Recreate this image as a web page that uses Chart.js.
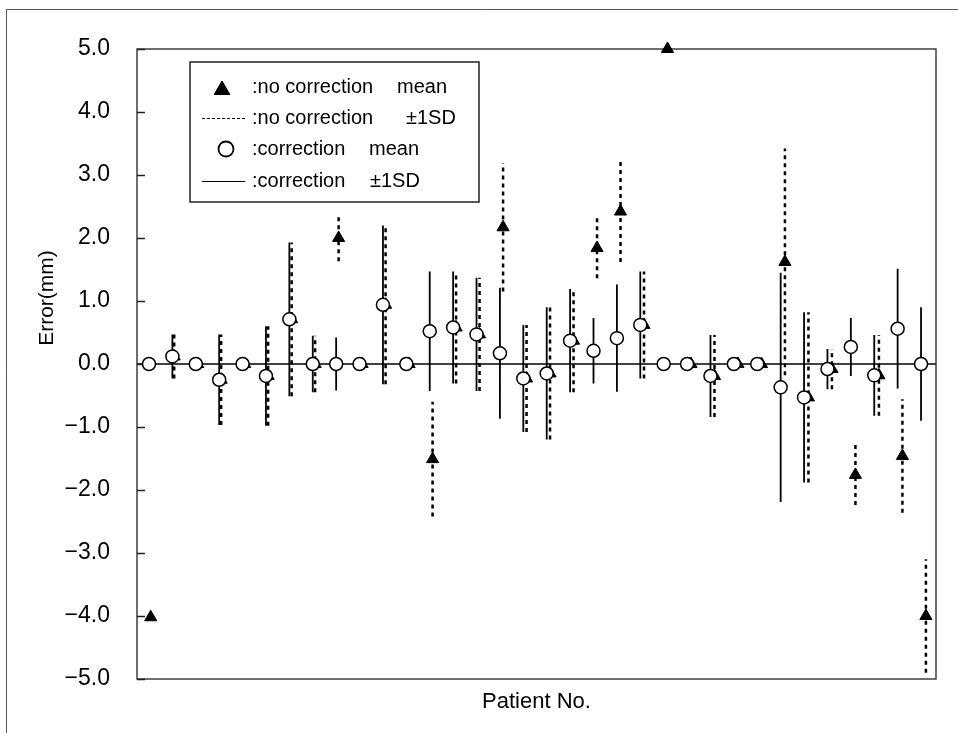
<!DOCTYPE html>
<html>
<head>
<meta charset="utf-8">
<script src="https://cdn.jsdelivr.net/npm/chart.js@4.4.0/dist/chart.umd.min.js"></script>
<style>
  html, body { margin: 0; padding: 0; background: #fff; }
  canvas { display: block; }
</style>
</head>
<body>
<canvas id="errChart" width="958" height="733"></canvas>
<script>
// patient numbers (x axis has no tick labels)
const patients = [1, 2, 3, 4, 5, 6, 7, 8, 9, 10, 11, 12, 13, 14, 15, 16, 17,
  18, 19, 20, 21, 22, 23, 24, 25, 26, 27, 28, 29, 30, 31, 32, 33, 34];

// correction: mean and 1SD (mm)
const corrMean = [0, 0.12, 0, -0.25, 0, -0.19, 0.71, 0, 0, 0, 0.94, 0, 0.52, 0.58, 0.47, 0.17, -0.23,
  -0.15, 0.37, 0.21, 0.41, 0.62, 0, 0, -0.19, 0, 0, -0.37, -0.53, -0.08, 0.27, -0.18, 0.56, 0];
const corrSD = [0, 0.35, 0, 0.72, 0, 0.79, 1.22, 0.45, 0.42, 0, 1.26, 0, 0.95, 0.89, 0.9, 1.04, 0.85,
  1.05, 0.82, 0.52, 0.85, 0.85, 0, 0, 0.65, 0, 0, 1.82, 1.35, 0.32, 0.46, 0.64, 0.95, 0.9];

// no correction: mean and 1SD (mm)
const noCorrMean = [-4.02, 0.12, 0, -0.25, 0, -0.19, 0.71, 0, 2.0, 0, 0.94, 0, -1.51, 0.58, 0.47, 2.17, -0.23,
  -0.15, 0.37, 1.84, 2.42, 0.62, 5.0, 0, -0.19, 0, 0, 1.62, -0.53, -0.08, -1.76, -0.18, -1.46, -4.0];
const noCorrSD = [0, 0.35, 0, 0.72, 0, 0.79, 1.22, 0.45, 0.37, 0, 1.26, 0, 0.91, 0.89, 0.9, 1.02, 0.85,
  1.05, 0.82, 0.48, 0.8, 0.85, 0, 0, 0.65, 0, 0, 1.8, 1.35, 0.32, 0.48, 0.64, 0.9, 0.9];

const yTicks = [-5, -4, -3, -2, -1, 0, 1, 2, 3, 4, 5];

const FONT = '"Liberation Sans", Arial, sans-serif';

function meanPoints(means) {
  return patients.map((p, i) => ({x: p, y: means[i]}));
}

// vertical +-1SD segments, separated by gaps
function sdSegments(means, sds) {
  const pts = [];
  patients.forEach((p, i) => {
    if (!sds[i]) return;
    pts.push({x: p, y: means[i] - sds[i]}, {x: p, y: means[i] + sds[i]}, {x: p, y: null});
  });
  return pts;
}

const framePlugin = {
  id: 'frame',
  beforeDatasetsDraw(chart) {
    const {ctx, chartArea: a} = chart;
    const y = chart.scales.y;
    ctx.save();
    ctx.strokeStyle = '#000';
    ctx.lineWidth = 1.5;
    const y0 = y.getPixelForValue(0);
    ctx.beginPath();
    ctx.moveTo(a.left, y0);
    ctx.lineTo(a.right, y0);
    ctx.stroke();

    ctx.lineWidth = 1.3;
    ctx.strokeStyle = '#222';
    ctx.beginPath();
    yTicks.forEach(v => {
      const py = Math.round(y.getPixelForValue(v)) + 0.5;
      ctx.moveTo(a.left, py);
      ctx.lineTo(a.left + 8, py);
    });
    ctx.stroke();
    ctx.strokeRect(a.left, a.top, a.right - a.left, a.bottom - a.top);
    ctx.restore();
  },
  afterDraw(chart) {
    const {ctx, chartArea: a} = chart;
    ctx.save();

    // outer frame (top and left only)
    ctx.strokeStyle = '#555';
    ctx.lineWidth = 1;
    ctx.beginPath();
    ctx.moveTo(6.5, 733);
    ctx.lineTo(6.5, 9.5);
    ctx.lineTo(958, 9.5);
    ctx.stroke();

    // legend box
    ctx.fillStyle = '#fff';
    ctx.fillRect(190, 62, 289, 140);
    ctx.strokeStyle = '#222';
    ctx.lineWidth = 1.5;
    ctx.strokeRect(190, 62, 289, 140);

    ctx.fillStyle = '#000';
    ctx.strokeStyle = '#000';
    ctx.lineWidth = 1;
    Chart.helpers.drawPoint(ctx, {pointStyle: 'triangle', radius: 9, borderWidth: 1}, 222, 90);
    ctx.fill();

    ctx.lineWidth = 1.2;
    ctx.setLineDash([3, 2]);
    ctx.beginPath();
    ctx.moveTo(202, 118.5);
    ctx.lineTo(245, 118.5);
    ctx.stroke();
    ctx.setLineDash([]);

    ctx.fillStyle = '#fff';
    ctx.lineWidth = 1.8;
    Chart.helpers.drawPoint(ctx, {pointStyle: 'circle', radius: 7.5, borderWidth: 1.8}, 226, 149);

    ctx.lineWidth = 1.2;
    ctx.beginPath();
    ctx.moveTo(202, 181.5);
    ctx.lineTo(245, 181.5);
    ctx.stroke();

    ctx.fillStyle = '#000';
    ctx.font = '20px ' + FONT;
    ctx.textBaseline = 'middle';
    ctx.textAlign = 'left';
    ctx.fillText(':no correction', 252, 87);
    ctx.fillText('mean', 397, 87);
    ctx.fillText(':no correction', 252, 118);
    ctx.fillText('\u00b11SD', 406, 118);
    ctx.fillText(':correction', 252, 149);
    ctx.fillText('mean', 369, 149);
    ctx.fillText(':correction', 252, 181);
    ctx.fillText('\u00b11SD', 370, 181);

    // axis titles
    ctx.textAlign = 'center';
    ctx.font = '22px ' + FONT;
    ctx.fillText('Patient No.', (a.left + a.right) / 2, 702);

    ctx.translate(47, 298);
    ctx.rotate(-Math.PI / 2);
    ctx.font = '21px ' + FONT;
    ctx.fillText('Error(mm)', 0, 0);
    ctx.restore();
  }
};

new Chart(document.getElementById('errChart'), {
  type: 'scatter',
  data: {
    datasets: [
      {
        label: 'correction mean',
        data: meanPoints(corrMean),
        xAxisID: 'x',
        pointStyle: 'circle',
        pointRadius: 6.5,
        pointBackgroundColor: '#fff',
        pointBorderColor: '#000',
        pointBorderWidth: 1.5,
        order: 1
      },
      {
        label: 'no correction mean',
        data: meanPoints(noCorrMean),
        xAxisID: 'x2',
        pointStyle: 'triangle',
        pointRadius: 7,
        pointBackgroundColor: '#000',
        pointBorderColor: '#000',
        pointBorderWidth: 1,
        clip: false,
        order: 2
      },
      {
        label: 'no correction 1SD',
        data: sdSegments(noCorrMean, noCorrSD),
        xAxisID: 'x2',
        showLine: true,
        spanGaps: false,
        pointRadius: 0,
        borderColor: '#000',
        borderWidth: 2.5,
        borderDash: [4, 4],
        order: 3
      },
      {
        label: 'correction 1SD',
        data: sdSegments(corrMean, corrSD),
        xAxisID: 'x',
        showLine: true,
        spanGaps: false,
        pointRadius: 0,
        borderColor: '#000',
        borderWidth: 1.8,
        order: 4
      }
    ]
  },
  options: {
    responsive: false,
    animation: false,
    events: [],
    layout: {padding: {top: 49, right: 22, bottom: 54, left: 0}},
    plugins: {
      legend: {display: false},
      tooltip: {enabled: false}
    },
    scales: {
      x: {type: 'linear', min: 0.487, max: 34.64, display: false},
      x2: {type: 'linear', min: 0.417, max: 34.43, display: false},
      y: {
        type: 'linear',
        min: -5,
        max: 5,
        afterFit(scale) { scale.width = 137; },
        afterBuildTicks(scale) { scale.ticks = yTicks.map(v => ({value: v})); },
        border: {display: false},
        grid: {display: false, drawTicks: false},
        ticks: {
          padding: 27,
          color: '#000',
          font: {family: FONT, size: 23},
          callback: v => v.toFixed(1).replace('-', '\u2212')
        }
      }
    }
  },
  plugins: [framePlugin]
});
</script>
</body>
</html>
